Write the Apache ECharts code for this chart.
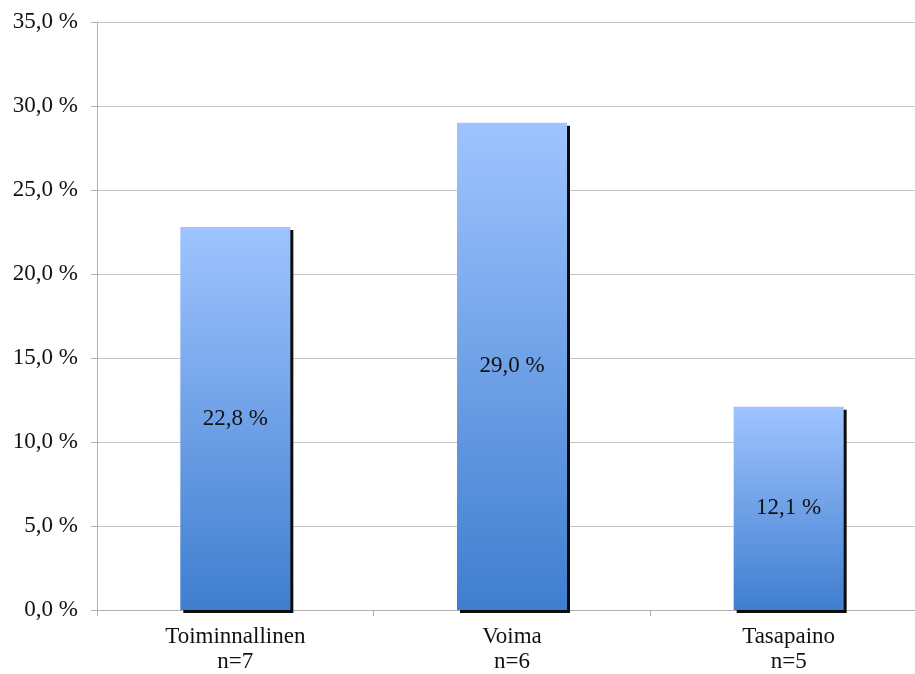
<!DOCTYPE html>
<html>
<head>
<meta charset="utf-8">
<script src="https://cdn.jsdelivr.net/npm/echarts@6/dist/echarts.min.js"></script>
<style>
  html, body { margin: 0; padding: 0; background: #fff; overflow: hidden; }
  /* plot area runs slightly past the right edge of the window */
  #chart { width: 927px; height: 674px; }
</style>
</head>
<body>
<div id="chart"></div>
<script>
// Share of participants per training type
const categories = ['Toiminnallinen\nn=7', 'Voima\nn=6', 'Tasapaino\nn=5'];
const values = [22.8, 29.0, 12.1];

const fmt = v => v.toFixed(1).replace('.', ',') + ' %';
const serif = '"Liberation Serif", "DejaVu Serif", serif';

const chart = echarts.init(document.getElementById('chart'));
chart.setOption({
  animation: false,
  grid: { left: 97, right: 0, top: 22, bottom: 64 },
  xAxis: {
    type: 'category',
    data: categories,
    axisLine: { lineStyle: { color: '#b0b0b0', width: 1 } },
    axisTick: { show: true, length: 6, lineStyle: { color: '#b0b0b0' } },
    axisLabel: {
      color: '#111', fontFamily: serif, fontSize: 23, lineHeight: 25, margin: 14
    }
  },
  yAxis: {
    type: 'value',
    min: 0, max: 35, interval: 5,
    axisLine: { show: true, lineStyle: { color: '#b0b0b0', width: 1 } },
    axisTick: { show: true, length: 6, lineStyle: { color: '#b0b0b0' } },
    splitLine: { lineStyle: { color: '#c4c4c4', width: 1 } },
    axisLabel: {
      color: '#111', fontFamily: serif, fontSize: 23, margin: 19,
      formatter: v => fmt(v)
    }
  },
  series: [{
    type: 'bar',
    data: values,
    barWidth: 110,
    itemStyle: {
      color: new echarts.graphic.LinearGradient(0, 0, 0, 1, [
        { offset: 0, color: '#9fc4ff' },
        { offset: 1, color: '#3f7ecf' }
      ]),
      shadowColor: 'rgba(0,0,0,0.95)',
      shadowBlur: 0,
      shadowOffsetX: 3,
      shadowOffsetY: 3
    },
    label: {
      show: true,
      position: 'inside',
      color: '#111',
      fontFamily: serif,
      fontSize: 23,
      formatter: p => fmt(p.value)
    }
  }]
});
</script>
</body>
</html>
